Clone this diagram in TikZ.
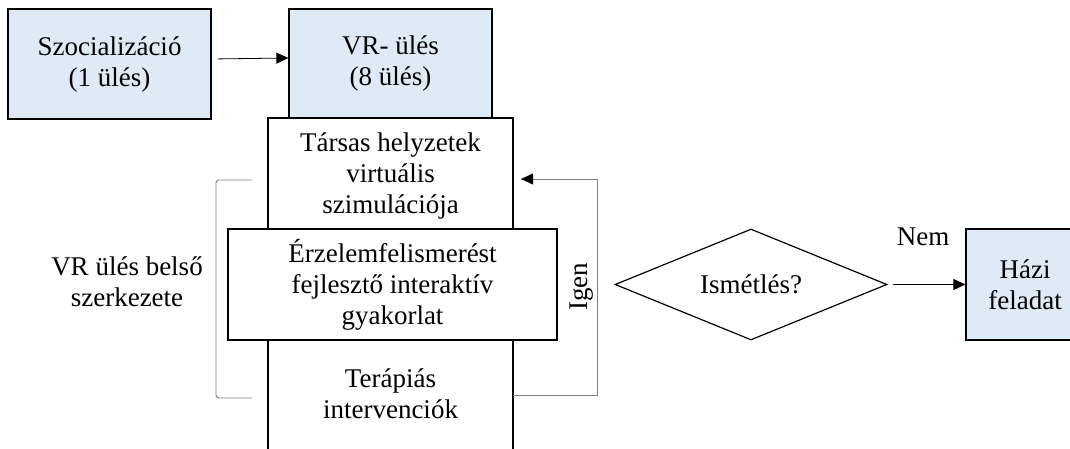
\documentclass[tikz,border=0pt]{standalone}
\usepackage{fontspec}
\setmainfont{Liberation Serif}
\usetikzlibrary{arrows.meta,shapes.geometric}
\definecolor{boxblue}{RGB}{222,235,247}
\definecolor{linegray}{RGB}{128,128,128}
\tikzset{
  every node/.style={font=\fontsize{27}{31}\selectfont, align=center, inner sep=0pt},
  bluebox/.style={draw=black, line width=1.2pt, fill=boxblue},
  whitebox/.style={draw=black, line width=1.2pt, fill=white},
  tip/.style={-{Triangle[length=12pt,width=11pt]}},
  conn/.style={line width=0.8pt, black},
  grayconn/.style={line width=0.9pt, linegray},
}
\begin{document}
\begin{tikzpicture}[x=1pt,y=-1pt]
\clip (0,0) rectangle (1070,449);
\fill[white] (0,0) rectangle (1070,449);
% top boxes
\node[bluebox, minimum width=203pt, minimum height=110pt] (szoc) at (109.5,64) {Szocializáció\\(1 ülés)};
\node[bluebox, minimum width=203pt, minimum height=109pt] (vr) at (390.5,63.5) {VR- ülés\\(8 ülés)};
% column
\coordinate (colbl) at (268,460);
\coordinate (coltl) at (268,118);
\coordinate (coltr) at (513,118);
\coordinate (colbr) at (513,460);
\fill[white] (colbl) rectangle (coltr);
\draw[line width=1.2pt] (colbl) -- (coltl) -- (coltr) -- (colbr);
\node (tarsas) at (390.5,176) {Társas helyzetek\\virtuális\\szimulációja};
\node[whitebox, minimum width=329pt, minimum height=111pt] (erz) at (392.5,284.5) {Érzelemfelismerést\\fejlesztő interaktív\\gyakorlat};
\node (terap) at (390.5,394) {Terápiás\\intervenciók};
% bracket and its label
\coordinate (brt) at (252,180);
\coordinate (brb) at (252,398);
\draw[grayconn, rounded corners=3pt] (brt) -- (216,180) -- (216,398) -- (brb);
\node (belso) at (127,282) {VR ülés belső\\szerkezete};
% feedback loop
\coordinate (fbstart) at (513,395);
\coordinate (fbend) at (521,179);
\draw[grayconn] (fbstart) -- (597,395) -- (597,179) -- (fbend);
\draw[conn, tip] (530,179) -- (fbend);
\node[rotate=90] (igen) at (582,287) {Igen};
% decision
\node[draw=black, line width=1.2pt, shape=diamond, aspect=2.45, minimum width=272pt, minimum height=111pt] (dia) at (751,284.5) {Ismétlés?};
\node[bluebox, minimum width=118pt, minimum height=111pt] (hazi) at (1025,284.5) {Házi\\feladat};
\node (nem) at (923,237) {Nem};
% arrows
\draw[conn, tip, shorten <=6pt] ([yshift=5pt]szoc.east) -- ([yshift=5.5pt]vr.west);
\draw[conn, tip, shorten <=5pt] (dia.east) -- (hazi.west);
\end{tikzpicture}
\end{document}
